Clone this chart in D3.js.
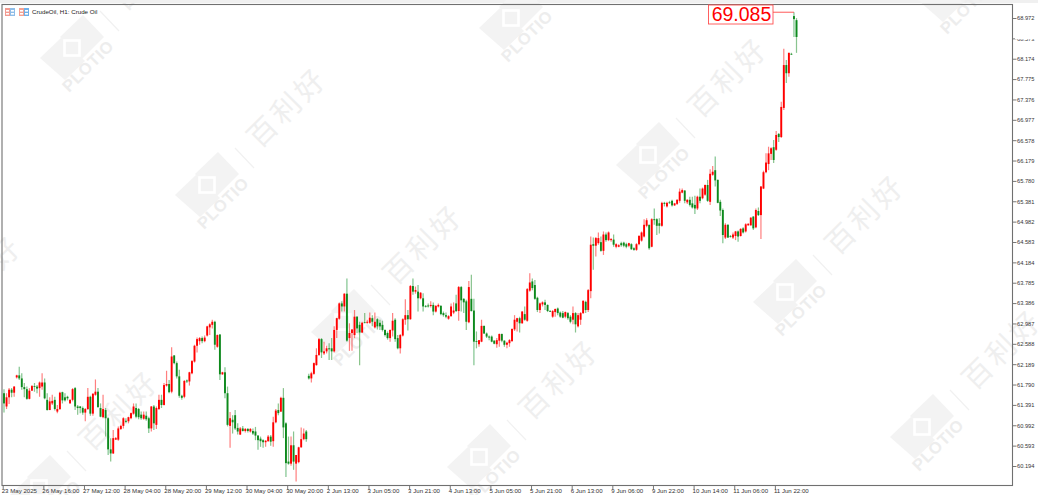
<!DOCTYPE html>
<html><head><meta charset="utf-8">
<script src="https://cdn.jsdelivr.net/npm/d3@7"></script>
<style>html,body{margin:0;padding:0;background:#fff;overflow:hidden}svg{display:block}</style>
</head><body><svg id="c" width="1038" height="495"></svg>
<script>
// Each row: open, high, low, close
const barsWeek1 = [
[61.62,61.70,61.24,61.42],[61.36,61.62,61.31,61.54],[61.54,61.72,61.41,61.69],[61.69,61.72,61.54,61.63],[61.63,61.76,61.55,61.75],[61.93,61.98,61.91,61.97],[61.97,62.14,61.88,61.91],[61.91,62.01,61.69,61.74],[61.74,61.82,61.54,61.70],[61.70,61.75,61.49,61.51],
[61.51,61.72,61.50,61.67],[61.67,61.78,61.67,61.76],[61.76,61.82,61.65,61.75],[61.75,61.78,61.62,61.71],[61.72,61.85,61.55,61.83],[61.75,62.01,61.69,61.83],[61.83,61.91,61.50,61.52],[61.49,61.62,61.28,61.29],[61.29,61.54,61.29,61.46],[61.42,61.59,61.39,61.47],
[61.49,61.55,61.28,61.31],[61.26,61.39,61.23,61.31],[61.31,61.65,61.29,61.63],[61.64,61.65,61.42,61.48],[61.54,61.62,61.46,61.48],[61.55,61.57,61.48,61.52],[61.42,61.50,61.42,61.49],[61.49,61.72,61.46,61.70],[61.72,61.74,61.29,61.36],[61.36,61.39,61.20,61.33],
[61.36,61.37,61.23,61.33],[61.33,61.36,61.20,61.24],[61.24,61.33,61.07,61.31],[61.31,61.72,61.29,61.55],[61.55,61.57,61.18,61.22],[61.22,61.62,61.18,61.61],[61.59,61.89,61.57,61.65],[61.65,61.72,61.33,61.35],[61.33,61.42,61.15,61.16],[61.15,61.59,61.13,61.31],
[61.29,61.33,60.77,61.13],[61.13,61.15,60.41,60.52],[60.52,60.74,60.28,60.44],[60.44,60.90,60.43,60.74],[60.71,60.76,60.71,60.74],[60.71,60.97,60.69,60.93],[60.92,61.00,60.90,60.98],[60.98,61.15,60.93,61.13],[61.08,61.13,61.03,61.06],[61.07,61.16,61.03,61.15],
[61.13,61.24,61.11,61.23],[61.22,61.42,61.20,61.36],[61.33,61.42,61.13,61.16],[61.31,61.33,61.11,61.15],[61.20,61.26,61.10,61.13],[61.12,61.26,61.10,61.20],[61.18,61.26,61.08,61.11],[61.13,61.16,60.84,60.93],[60.93,61.37,60.87,61.36],[61.36,61.39,60.90,61.03],
[61.00,61.36,60.92,61.33],[61.31,61.59,61.29,61.49]];
const barsWeek2 = [
[61.49,61.59,61.33,61.39],[61.39,61.82,61.38,61.78],[61.77,62.06,61.75,61.80],[61.80,61.88,61.62,61.64],[61.65,62.52,61.62,62.34],[62.36,62.37,62.19,62.21],[62.21,62.24,61.91,61.95],[61.95,62.08,61.53,61.57],[61.57,61.59,61.49,61.53],[61.55,61.88,61.52,61.86],
[61.87,61.89,61.82,61.85],[61.85,62.04,61.77,62.03],[62.01,62.27,61.99,62.25],[62.24,62.57,62.22,62.55],[62.55,62.71,62.42,62.68],[62.64,62.72,62.57,62.70],[62.70,62.73,62.60,62.64],[62.64,62.75,62.62,62.71],[62.75,62.94,62.73,62.93],[62.91,62.99,62.76,62.97],
[62.96,63.06,62.89,63.02],[63.02,63.04,62.47,62.57],[62.53,62.77,62.51,62.76],[62.77,62.78,61.88,61.99],[61.99,62.04,61.98,62.03],[62.03,62.13,61.52,61.62],[61.62,61.75,60.97,61.00],[60.98,61.25,60.55,61.13],[61.10,61.19,60.83,61.05],[61.19,61.29,60.90,60.93],
[60.94,61.03,60.81,60.87],[60.81,60.96,60.80,60.93],[60.93,60.98,60.87,60.88],[60.88,60.94,60.85,60.92],[60.92,60.94,60.85,60.88],[60.87,60.94,60.85,60.92],[60.88,60.93,60.80,60.83],[60.87,60.96,60.70,60.79],[60.79,60.80,60.51,60.70],[60.73,60.77,60.57,60.68],
[60.70,60.72,60.55,60.66],[60.66,60.70,60.57,60.69],[60.68,60.80,60.67,60.77],[60.77,60.80,60.59,60.67],[60.68,61.16,60.57,61.05],[61.05,61.31,61.03,61.28],[61.29,61.42,61.19,61.23],[61.26,61.55,61.25,61.53],[61.53,61.72,60.74,60.95],[61.03,61.05,59.98,60.25],
[60.28,60.77,60.22,60.24],[60.24,60.77,60.20,60.60],[60.60,60.87,60.12,60.28],[60.24,60.41,59.89,60.41],[60.27,60.57,60.25,60.56],[60.56,60.95,60.55,60.72],[60.72,60.93,60.70,60.83],[60.87,60.90,60.67,60.72]];
const barsWeek3 = [
[61.96,62.00,61.89,61.91],[61.91,62.04,61.83,62.01],[62.00,62.22,61.98,62.21],[62.17,62.50,62.16,62.37],[62.37,62.70,62.35,62.68],[62.68,62.70,62.31,62.42],[62.40,62.63,62.37,62.44],[62.44,62.55,62.40,62.50],[62.50,62.60,62.27,62.48],[62.50,62.70,62.27,62.44],
[62.44,62.93,62.42,62.86],[62.86,63.10,62.70,63.09],[63.08,63.40,63.06,63.38],[63.38,63.42,63.22,63.32],[63.32,63.58,63.22,63.57],[63.57,63.87,62.63,62.65],[62.70,62.99,62.45,62.80],[62.80,62.87,62.45,62.87],[62.76,63.25,62.70,63.12],[63.12,63.13,62.80,62.89],
[62.96,63.02,62.17,62.81],[62.81,63.02,62.80,63.00],[63.01,63.19,62.99,63.00],[63.00,63.06,62.98,63.02],[63.00,63.20,62.98,63.10],[63.09,63.15,62.93,63.02],[62.91,63.20,62.89,63.02],[63.07,63.09,62.87,62.93],[63.00,63.06,62.86,62.93],[62.96,63.04,62.83,62.86],
[62.86,62.87,62.73,62.76],[62.80,62.83,62.67,62.70],[62.70,62.87,62.63,62.86],[62.85,63.19,62.73,63.04],[63.06,63.09,62.63,62.68],[62.70,62.76,62.48,62.50],[62.50,62.78,62.40,62.76],[62.75,63.09,62.73,63.07],[63.06,63.46,62.96,63.15],[63.15,63.25,62.85,63.07],
[63.07,63.74,63.06,63.72],[63.72,63.87,63.55,63.61],[63.61,63.71,63.57,63.64],[63.61,63.74,63.22,63.48],[63.48,63.60,63.46,63.59],[63.48,63.58,63.22,63.32],[63.33,63.35,63.30,63.32],[63.34,63.38,63.30,63.32],[63.33,63.42,63.30,63.35],[63.35,63.40,63.15,63.22],
[63.22,63.35,63.20,63.33],[63.32,63.38,63.30,63.35],[63.33,63.35,63.15,63.17],[63.19,63.22,63.12,63.15],[63.15,63.20,63.09,63.12],[63.08,63.15,63.06,63.13],[63.13,63.38,63.12,63.32],[63.20,63.40,63.17,63.24],[63.38,63.55,63.21,63.23],[63.23,63.72,63.04,63.70],
[63.70,63.72,63.22,63.44]];
const barsWeek4 = [
[63.47,63.48,63.19,63.40],[63.42,63.45,62.86,63.02],[63.01,63.82,62.99,63.70],[63.47,63.94,63.22,63.23],[63.24,63.47,62.17,62.63],[62.64,62.83,62.50,62.63],[62.58,62.66,62.53,62.66],[62.63,63.06,62.62,62.94],[62.94,62.94,62.78,62.79],[62.79,62.81,62.70,62.73],
[62.73,62.75,62.66,62.71],[62.73,62.75,62.62,62.63],[62.65,62.66,62.58,62.59],[62.58,62.70,62.51,62.66],[62.65,62.79,62.53,62.78],[62.78,62.79,62.62,62.65],[62.65,62.66,62.53,62.57],[62.57,62.63,62.50,62.61],[62.60,62.68,62.53,62.66],[62.64,62.89,62.63,62.88],
[62.87,63.15,62.84,63.06],[63.02,63.10,62.83,63.09],[63.09,63.12,62.81,62.99],[62.99,63.23,62.98,63.22],[63.17,63.32,63.04,63.06],[63.04,63.68,63.02,63.66],[63.63,63.97,63.61,63.79],[63.81,63.87,63.64,63.68],[63.74,63.84,63.45,63.47],[63.49,63.51,63.21,63.25],
[63.25,63.40,63.19,63.38],[63.36,63.42,63.32,63.40],[63.40,63.45,63.25,63.35],[63.35,63.36,63.21,63.23],[63.23,63.25,63.21,63.22],[63.12,63.25,63.10,63.23],[63.21,63.28,63.12,63.27],[63.28,63.30,63.15,63.19],[63.20,63.22,63.10,63.12],[63.19,63.23,63.09,63.10],
[63.12,63.22,63.09,63.21],[63.19,63.21,63.06,63.09],[63.12,63.15,62.99,63.02],[63.06,63.32,62.97,63.19],[63.19,63.21,62.81,62.97],[62.93,63.19,62.91,63.15],[63.06,63.21,62.96,63.19],[63.19,63.44,63.17,63.43],[63.41,63.43,63.19,63.25],[63.25,63.66,63.21,63.64],
[63.62,64.69,63.48,64.53],[64.54,64.67,64.04,64.51],[64.51,64.68,64.30,64.66],[64.56,64.77,64.53,64.66],[64.58,64.69,64.39,64.41],[64.41,64.79,64.33,64.73],[64.73,64.77,64.59,64.62],[64.62,64.79,64.60,64.77],[64.62,64.66,64.59,64.64],[64.63,64.73,64.49,64.53],
[64.49,64.56,64.46,64.54]];
const barsWeek5 = [
[64.49,64.54,64.48,64.52],[64.56,64.59,64.49,64.52],[64.57,64.59,64.48,64.51],[64.54,64.57,64.46,64.49],[64.51,64.57,64.48,64.56],[64.54,64.56,64.43,64.44],[64.46,64.48,64.41,64.43],[64.43,64.56,64.41,64.54],[64.54,64.72,64.52,64.70],[64.61,64.79,64.59,64.77],
[64.69,65.03,64.67,64.92],[64.90,65.05,64.87,65.01],[64.92,64.92,64.43,64.46],[64.49,65.05,64.48,65.03],[65.03,65.24,64.92,65.01],[65.03,65.05,64.72,64.90],[64.95,65.05,64.75,64.90],[64.90,65.37,64.88,65.35],[65.35,65.37,65.28,65.33],[65.28,65.37,65.26,65.35],
[65.36,65.39,65.33,65.35],[65.39,65.41,65.28,65.30],[65.30,65.35,65.29,65.34],[65.33,65.42,65.31,65.41],[65.39,65.63,65.35,65.57],[65.55,65.63,65.54,65.60],[65.59,65.60,65.34,65.39],[65.36,65.42,65.33,65.41],[65.41,65.47,65.28,65.31],[65.34,65.47,65.24,65.26],
[65.31,65.49,65.13,65.24],[65.24,65.49,65.21,65.47],[65.47,65.63,65.34,65.39],[65.44,65.65,65.42,65.63],[65.51,65.71,65.49,65.70],[65.70,65.80,65.37,65.39],[65.37,66.01,65.31,65.92],[65.90,66.07,65.88,65.96],[65.99,66.26,65.67,65.79],[65.80,65.81,65.34,65.35],
[65.37,65.41,65.09,65.20],[65.21,65.24,64.56,64.72],[64.67,64.95,64.64,64.92],[64.92,64.93,64.66,64.67],[64.70,64.72,64.67,64.69],[64.67,64.77,64.64,64.73],[64.70,64.80,64.62,64.79],[64.79,64.81,64.59,64.69],[64.70,64.85,64.69,64.84],[64.85,64.87,64.75,64.77],
[64.79,64.95,64.77,64.93],[64.91,64.95,64.90,64.94],[64.91,65.07,64.90,65.06],[65.08,65.09,64.82,64.85],[64.87,65.24,64.85,65.21],[65.19,65.26,65.09,65.11],[65.11,65.68,64.64,65.67],[65.63,65.98,65.62,65.95],[65.95,66.32,65.93,66.14],[66.11,66.45,65.99,66.32],
[66.31,66.44,66.19,66.42],[66.44,66.58,66.13,66.19],[66.39,66.76,66.37,66.68],[66.70,66.72,66.54,66.64],[66.64,67.33,66.62,67.23],[67.21,68.37,67.17,68.05],[68.05,68.15,67.70,67.89],[67.89,68.29,67.82,68.29],[68.27,68.29,68.25,68.26],[69.01,69.085,68.60,68.95],[68.93,68.97,68.29,68.60]];
const priceTicks = [68.972,68.573,68.174,67.775,67.376,66.977,66.578,66.179,65.780,65.381,64.982,64.583,64.184,63.785,63.386,62.987,62.588,62.189,61.790,61.391,60.992,60.593,60.194];
const timeLabels = ["23 May 2025","26 May 16:00","27 May 12:00","28 May 04:00","28 May 20:00","29 May 12:00","30 May 04:00","30 May 20:00","2 Jun 13:00","3 Jun 05:00","3 Jun 21:00","4 Jun 13:00","5 Jun 05:00","5 Jun 21:00","6 Jun 13:00","9 Jun 06:00","9 Jun 22:00","10 Jun 14:00","11 Jun 06:00","11 Jun 22:00"];
const titleText = "CrudeOil, H1:  Crude Oil";
const highPrice = 69.085;
const logoSpots = [[-98,353],[72,48],[207,185],[343,322],[479,457],[39,488],[511,18],[648,155],[785,292],[922,427],[950,-10]];

const bars = [...barsWeek1,...barsWeek2,...barsWeek3,...barsWeek4,...barsWeek5]
  .map((r,i)=>({i,open:r[0],high:r[1],low:r[2],close:r[3]}));

const svg = d3.select("#c");
const L=2,R=1012.5,T=4.5,B=485.5;
const y = d3.scaleLinear().domain([60.194,68.972]).range([466,18]);
const x = d3.scaleLinear().domain([0,312]).range([4,796.5]);
const xTick = d3.scaleLinear().domain([0,312]).range([2.7,795.2]);

const defs = svg.append("defs");
defs.append("filter").attr("id","soft").attr("x","-2%").attr("y","-2%").attr("width","104%").attr("height","104%")
  .append("feGaussianBlur").attr("stdDeviation",0.3);

svg.append("rect").attr("width",1038).attr("height",495).attr("fill","#fff");
svg.append("rect").attr("width",1038).attr("height",3).attr("fill","#f0f0f0");

// watermark
const wm = svg.append("g").attr("class","watermark");
logoSpots.forEach(([cx,cy])=>{
  const g = wm.append("g").attr("transform",`translate(${cx},${cy})`);
  const c="#f3f3f3";
  g.append("polygon").attr("points","11,-33 32,-11 9,12 -12,-11").attr("fill",c);
  g.append("polygon").attr("points","-32,10 -11,-10 13,13 -7,32").attr("fill",c);
  g.append("rect").attr("x",-7.5).attr("y",-7.5).attr("width",15).attr("height",15).attr("fill",c).attr("stroke","#fff").attr("stroke-width",2.6);
  g.append("text").attr("transform","translate(17,19) rotate(-45)").attr("text-anchor","middle").attr("dominant-baseline","middle")
    .attr("font-family","Liberation Sans").attr("font-weight","bold").attr("font-size",16.5).attr("letter-spacing",0.6).attr("fill","#ededed").text("PLOTIO");
  g.append("line").attr("x1",28).attr("y1",-37).attr("x2",47).attr("y2",-17).attr("stroke","#f1f1f1").attr("stroke-width",1.2);
  if(cy>0) g.append("text").attr("transform","translate(82,-76) rotate(-45)").attr("text-anchor","middle").attr("dominant-baseline","middle")
    .attr("font-family","Noto Sans CJK SC").attr("font-size",29).attr("letter-spacing",4).attr("fill","#efefef").text("百利好");
});

// candles
const green="#0f8a1e", red="#ff0000";
const col=d=>d.close>=d.open?red:green;
const g = svg.append("g").attr("class","candles").attr("filter","url(#soft)");
g.selectAll("line.w").data(bars).join("line").attr("class","w")
  .attr("x1",d=>x(d.i)).attr("x2",d=>x(d.i)).attr("y1",d=>y(d.high)).attr("y2",d=>y(d.low))
  .attr("stroke",col).attr("stroke-width",1.2).attr("stroke-opacity",0.5);
g.selectAll("rect.b").data(bars).join("rect").attr("class","b")
  .attr("x",d=>x(d.i)-0.95).attr("width",1.9)
  .attr("y",d=>y(Math.max(d.open,d.close)))
  .attr("height",d=>Math.max(0.8,Math.abs(y(d.open)-y(d.close))))
  .attr("fill",col);

// axes
const yAxis = d3.axisRight(y).tickValues(priceTicks).tickFormat(d3.format(".3f")).tickSize(4).tickPadding(0.5);
const ga = svg.append("g").attr("transform",`translate(${R},0)`).call(yAxis);
const xAxis = d3.axisBottom(xTick).tickValues(d3.range(0,313,16)).tickFormat((d,i)=>timeLabels[i]).tickSize(4).tickPadding(0);
const gx = svg.append("g").attr("transform",`translate(0,${B})`).call(xAxis);
[ga,gx].forEach(s=>{s.select(".domain").remove();
  s.selectAll("line").attr("stroke","#555").attr("stroke-width",0.8);
  s.selectAll("text").attr("font-family","Liberation Sans").attr("fill","#333");});
ga.selectAll("text").attr("font-size",5.7);
gx.selectAll("text").attr("font-size",6.1).attr("text-anchor","start").attr("dx",-1.5).attr("y",3.5);

// obscured tick label
svg.append("rect").attr("x",1015).attr("y",33).attr("width",22).attr("height",6.2).attr("fill","#fff");

// frame
svg.append("rect").attr("x",L).attr("y",T).attr("width",R-L).attr("height",B-T).attr("fill","none").attr("stroke","#707070").attr("stroke-width",1.1);

// header icons
function icon(x0,c1,c2){
  const ic=svg.append("g").attr("transform",`translate(${x0},8)`);
  ic.append("rect").attr("width",5).attr("height",8).attr("fill",c1);
  ic.append("rect").attr("x",5).attr("width",5).attr("height",8).attr("fill",c2);
  [[1,2],[1,5],[6,2],[6,5]].forEach(p=>ic.append("rect").attr("x",p[0]).attr("y",p[1]).attr("width",3).attr("height",1.6).attr("fill","#fff"));
}
icon(5,"#f29a90","#8fbde8");
icon(19,"#f5a090","#6fb0e8");
svg.append("text").attr("x",32).attr("y",13.8).attr("font-family","Liberation Sans").attr("font-size",6.2).attr("fill","#222").text(titleText);

// high price tag
const topY=y(highPrice), tag=svg.append("g");
tag.append("polyline").attr("points",`773,${topY} ${x(311)},${topY}`).attr("fill","none").attr("stroke","#ff3030").attr("stroke-width",0.8);
tag.append("rect").attr("x",708.5).attr("y",5).attr("width",64.5).attr("height",19).attr("fill","#fff").attr("stroke","#ff5050").attr("stroke-width",0.9);
tag.append("text").attr("x",741.5).attr("y",20.8).attr("text-anchor","middle").attr("font-family","Liberation Sans").attr("font-size",19.5).attr("fill","#ff0000").text(highPrice.toFixed(3));
</script></body></html>
